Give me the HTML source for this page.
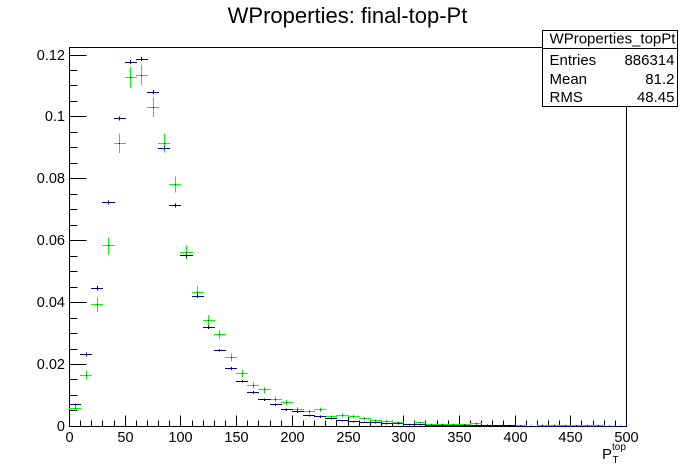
<!DOCTYPE html>
<html>
<head>
<meta charset="utf-8">
<style>
html,body{margin:0;padding:0;background:#fff;width:696px;height:474px;overflow:hidden}
svg{display:block}
text{font-family:"Liberation Sans",sans-serif;fill:#000}
</style>
</head>
<body>
<svg id="chart" xmlns="http://www.w3.org/2000/svg" width="696" height="474" viewBox="0 0 696 474">
<rect x="0" y="0" width="696" height="474" fill="#fff"/>
<text x="347.500" y="23" font-size="22" text-anchor="middle">WProperties: final-top-Pt</text>
<rect x="69.5" y="47.5" width="557" height="379" fill="none" stroke="#000" stroke-width="1" shape-rendering="crispEdges"/>
<g id="axes"></g>
<g id="marks"></g>
<g>
<text x="602" y="459" font-size="15">P</text>
<text x="612" y="450" font-size="10">top</text>
<text x="612.500" y="463" font-size="10">T</text>
</g>
<g>
<rect x="542.500" y="30.500" width="135" height="76" fill="#fff" stroke="#000" stroke-width="1" shape-rendering="crispEdges"/>
<line x1="542.500" x2="677.500" y1="48.500" y2="48.500" stroke="#000" shape-rendering="crispEdges"/>
<text x="612.500" y="43.500" font-size="15" text-anchor="middle">WProperties_topPt</text>
<text x="549.500" y="65" font-size="15">Entries</text>
<text x="674.500" y="65" font-size="15" text-anchor="end">886314</text>
<text x="549.500" y="84" font-size="15">Mean</text>
<text x="674.500" y="84" font-size="15" text-anchor="end">81.2</text>
<text x="549.500" y="102" font-size="15">RMS</text>
<text x="674.500" y="102" font-size="15" text-anchor="end">48.45</text>
</g>
</svg>
<script>
const binCenters = [5,15,25,35,45,55,65,75,85,95,105,115,125,135,145,155,165,175,185,195,205,215,225,235,245,255,265,275,285,295,305,315,325,335,345,355,365,375,385,395,405,415,425,435,445,455,465,475,485,495];
const blueValues = [.0070,.0232,.0446,.0724,.0995,.1177,.1187,.1080,.0899,.0714,.0552,.0421,.0320,.0246,.0187,.0146,.0109,.0086,.0070,.0054,.0047,.0035,.0031,.0025,.0018,.0015,.0013,.0012,.0009,.0008,.0005,.0005,.0004,.0004,.0003,.0003,.0003,.0003,.0002,.0002,.0001,.0001,.0001,.0001,.0001,.0001,.0001,.0001,.0001,.0001];
const blackErrors = [.0003,.0005,.0006,.0005,.0005,.0005,.0005,.0005,.0005,.0005,.0004,.0004,.0004,.0003,.0003,.0003,.0003,.0002,.0002,.0002,.0002,.0002,.0002,.0001,.0001,.0001,.0001,.0001,.0001,.0001,.0001,.0001,.0001,.0001,.0001,.0001,.0001,.0001,.0001,.0001,0,0,0,0,0,0,0,0,0,0];
const greenValues = [.0057,.0166,.0393,.0583,.0915,.1128,.1135,.1031,.0915,.0782,.0562,.0434,.0343,.0297,.0222,.0170,.0133,.0118,.0088,.0077,.0055,.0048,.0054,.0031,.0036,.0033,.0026,.0019,.0016,.0013,.0006,.0012,.0007,.0007,.0006,.0006,.0008,.0004,.0002,.0004,.0003,0,.0004,.0004,.0002,.0003,.0004,.0004,0,0];
const greenErrors = [.0010,.0014,.0023,.0027,.0032,.0034,.0034,.0032,.0030,.0026,.0023,.0019,.0017,.0015,.0013,.0012,.0010,.0010,.0009,.0008,.0007,.0007,.0007,.0005,.0006,.0005,.0005,.0004,.0004,.0003,.0003,.0003,.0002,.0002,.0002,.0002,.0002,.0002,.0002,.0002,.0002,0,.0002,.0002,.0002,.0002,.0002,.0002,0,0];
const yTickLabels = ["0","0.02","0.04","0.06","0.08","0.1","0.12"];
const yTickValues = [0,.02,.04,.06,.08,.1,.12];
const xTickValues = [0,50,100,150,200,250,300,350,400,450,500];
const binWidth = 10;
const yMinorStep = .005;
const xMinorStep = 10;

const NS = 'http://www.w3.org/2000/svg';
const xScale = v => 69.5 + v * 557 / 500;
const yScale = v => 426.4 - v * 3095;
const snap = p => Math.floor(p) + .5;
const marks = document.getElementById('marks');
const axes = document.getElementById('axes');

function line(parent, x1, y1, x2, y2, color) {
  const el = document.createElementNS(NS, 'line');
  el.setAttribute('x1', x1);
  el.setAttribute('y1', y1);
  el.setAttribute('x2', x2);
  el.setAttribute('y2', y2);
  el.setAttribute('stroke', color);
  el.setAttribute('stroke-width', '1');
  el.setAttribute('shape-rendering', 'crispEdges');
  parent.appendChild(el);
  return el;
}
function label(parent, x, y, str, anchor) {
  const el = document.createElementNS(NS, 'text');
  el.setAttribute('x', x);
  el.setAttribute('y', y);
  el.setAttribute('font-size', '14.5');
  el.setAttribute('text-anchor', anchor);
  el.textContent = str;
  parent.appendChild(el);
  return el;
}

for (let i = 0; i <= 24; i++) {
  const y = snap(yScale(i * yMinorStep));
  const t = line(axes, 69.5, y, 77.5, y, '#000');
  
  
}
yTickValues.forEach((v, i) => {
  const y = snap(yScale(v));
  const t = line(axes, 69.5, y, 86.5, y, '#000');
  
  
  const l = label(axes, 65, y + 4.5, yTickLabels[i], 'end');
  
  
});
for (let v = 0; v <= 500; v += xMinorStep) {
  const x = snap(xScale(v));
  const t = line(axes, x, 426.5, x, 420.5, '#000');
  
  
}
xTickValues.forEach(v => {
  const x = snap(xScale(v));
  const t = line(axes, x, 426.5, x, 415.5, '#000');
  
  
  const l = label(axes, x, 442, String(v), 'middle');
  
  
});

binCenters.forEach((c, i) => {
  const x = snap(xScale(c));
  const x0 = Math.floor(xScale(c - binWidth / 2));
  const x1 = Math.floor(xScale(c + binWidth / 2)) + 1;
  if (greenValues[i] > 0) {
    const y = snap(yScale(greenValues[i]));
    const h = line(marks, x0, y, x1, y, '#00ff00');
    
    
    const v = line(marks, x, yScale(greenValues[i] + greenErrors[i]), x, yScale(greenValues[i] - greenErrors[i]), '#00ff00');
    
    
    const d = line(marks, x, y - .5, x, y + .5, '#000');
    
    
  }
});
binCenters.forEach((c, i) => {
  const x = snap(xScale(c));
  const e = line(marks, x, yScale(blueValues[i] + blackErrors[i]) - .5, x, yScale(blueValues[i] - blackErrors[i]) + .5, '#000');
  
  
  const y = snap(yScale(blueValues[i]));
  const b = line(marks, Math.floor(xScale(c - binWidth / 2)), y, Math.floor(xScale(c + binWidth / 2)) + 1, y, '#000090');
  
  
});
</script>
</body>
</html>
